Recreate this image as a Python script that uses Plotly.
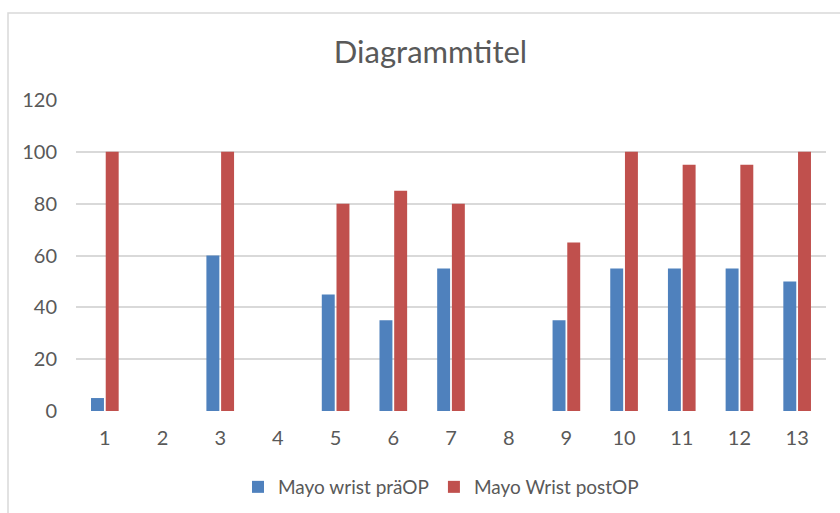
import plotly.graph_objects as go

categories = ["1", "2", "3", "4", "5", "6", "7", "8", "9", "10", "11", "12", "13"]
pre_op = [5, 0, 60, 0, 45, 35, 55, 0, 35, 55, 55, 55, 50]
post_op = [100, 0, 100, 0, 80, 85, 80, 0, 65, 100, 95, 95, 100]
y_ticks = [0, 20, 40, 60, 80, 100, 120]

FONT = "Lato"
TXT = "#595959"
GRID = "#D9D9D9"

fig = go.Figure()
fig.add_trace(go.Bar(x=categories, y=pre_op, name="Mayo wrist präOP",
                     marker=dict(color="#4F81BD", line=dict(width=0))))
fig.add_trace(go.Bar(x=categories, y=post_op, name="Mayo Wrist postOP",
                     marker=dict(color="#C0504D", line=dict(width=0))))

L, R, T, B = 76, 14, 100, 102
W, H = 840, 513
pw, ph = W - L - R, H - T - B

fig.update_layout(
    width=W, height=H,
    margin=dict(l=L, r=R, t=T, b=B, autoexpand=False),
    paper_bgcolor="white", plot_bgcolor="white",
    barmode="group", bargap=0.49, bargroupgap=0.12,
    font=dict(family=FONT, color=TXT, size=19),
    title=dict(text="Diagrammtitel", xref="paper", x=(430.5 - L) / pw,
               xanchor="center", y=1 - 52 / H, yanchor="middle",
               font=dict(family=FONT, size=31, color=TXT)),
    legend=dict(orientation="h", xref="paper", x=(441 - L) / pw, xanchor="center",
                y=(H - B - 487) / ph, yanchor="middle",
                font=dict(family=FONT, size=19, color=TXT),
                itemwidth=30, tracegroupgap=0),
    xaxis=dict(type="category", showgrid=False, showline=False, ticks="",
               ticklabelstandoff=13, tickfont=dict(size=20, color=TXT),
               zeroline=False),
    yaxis=dict(range=[0, 120], tickvals=y_ticks, showgrid=True, gridcolor=GRID,
               gridwidth=1.5, zeroline=False, showline=False, ticks="",
               ticklabelstandoff=18, tickfont=dict(size=20, color=TXT)),
    shapes=[dict(type="rect", xref="paper", yref="paper",
                 x0=(8 - L) / pw, x1=1.2, y0=-0.6, y1=(H - B - 13) / ph,
                 line=dict(color=GRID, width=1.5), fillcolor="rgba(0,0,0,0)",
                 layer="below")],
)

fig.write_html("out.html")
